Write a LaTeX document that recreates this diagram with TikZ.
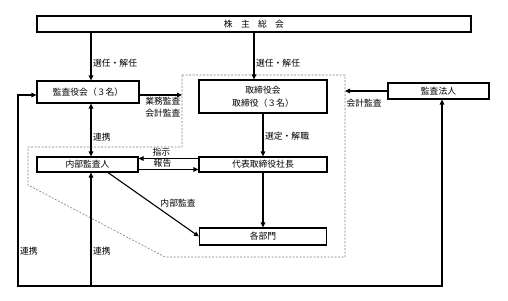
\documentclass[tikz,border=0pt]{standalone}
\usepackage{fontspec}
\newfontfamily\jpfont{Noto Sans CJK JP}
\usetikzlibrary{arrows.meta,positioning,calc}
\tikzset{
  box/.style  = {rectangle, draw, line width=1.1pt, inner sep=0pt,
                 font=\jpfont\fontsize{8.8}{13}\selectfont, align=center},
  lbl/.style  = {font=\jpfont\fontsize{8.8}{12}\selectfont, inner sep=1.5pt},
  arr/.style  = {-{Triangle[length=5pt,width=4.5pt]}, line width=1.1pt},
  dual/.style = {{Triangle[length=5pt,width=4.5pt]}-{Triangle[length=5pt,width=4.5pt]},
                 line width=1.1pt},
  zone/.style = {draw=gray, line width=0.6pt, dash pattern=on 2pt off 1.5pt},
}

\begin{document}
\begin{tikzpicture}[x=1pt, y=-1pt]
\useasboundingbox (0,0) rectangle (508,300);

% columns and outer corners
\coordinate (colA) at (91,0);
\coordinate (colB) at (254,0);
\coordinate (zA) at (182,0);
\coordinate (zB) at (345,0);
\coordinate (oL) at (18,286);
\coordinate (oR) at (442,286);

% dashed area around the executive side
\draw[zone] (182,75) -- (345,75) -- (345,257) -- (165,257) -- (28,185)
  -- (28,147) -- (182,147) -- cycle;

% boxes
\node[box, minimum width=434pt, minimum height=16pt] (soukai) at (254,24)
  {株\hspace{8.3pt}主\hspace{8.3pt}総\hspace{8.3pt}会};
\node[box, minimum width=102pt, minimum height=22pt] (kansayaku) at (88,92) {監査役会（３名）};
\node[box, minimum width=128pt, minimum height=33pt] (torishimari) at (263,96.5)
  {取締役会\\取締役（３名）};
\node[box, minimum width=101pt, minimum height=16pt] (houjin) at (438.5,91) {監査法人};
\node[box, minimum width=128pt, minimum height=15pt] (shachou) at (263,164.5) {代表取締役社長};
\node[box, minimum width=101pt, minimum height=15pt] (naibu) at (87.5,164.5) {内部監査人};
\node[box, minimum width=127pt, minimum height=17pt] (bumon) at (263,236.5) {各部門};

% election
\draw[arr] (soukai.south -| colA) -- node[lbl, right, pos=0.63] {選任・解任} (kansayaku.north -| colA);
\draw[arr] (soukai.south -| colB) -- node[lbl, right, pos=0.65] {選任・解任} (torishimari.north -| colB);

% audits into the dashed area
\draw[arr] ([yshift=-3pt]kansayaku.east) -- ([yshift=-3pt]kansayaku.east -| zA)
  node[lbl, anchor=north east, align=right, inner sep=1pt, yshift=-1pt] {業務監査\\会計監査};
\draw[arr] (houjin.west) -- (houjin.west -| zB)
  node[lbl, anchor=north west, inner sep=1pt, yshift=-7pt] {会計監査};

% executive line
\draw[arr] (torishimari) -- node[lbl, right, pos=0.52] {選定・解職} (shachou);
\draw[arr] ([yshift=6pt]shachou.west) -- node[lbl, above, pos=0.62] {指示} ([yshift=6pt]naibu.east);
\draw[arr] ([yshift=-5pt]naibu.east) -- node[lbl, above, pos=0.4] {報告} ([yshift=-5pt]shachou.west);
\draw[arr] (shachou) -- (bumon);

% internal audit
\draw[dual] (kansayaku.south -| colA) -- node[lbl, right, pos=0.63] {連携} (naibu.north -| colA);
\draw[arr] ([xshift=20.5pt]naibu.south) -- node[lbl, pos=0.56, anchor=south west, inner sep=1pt] {内部監査} (bumon.west);

% outer cooperation loop
\draw[dual] (houjin.south -| oR) -- (oR) -- (oL)
  -- node[lbl, right, pos=0.18] {連携} (oL |- 0,95) -- ([yshift=-3pt]kansayaku.west);
\draw[arr] (colA |- oL) -- node[lbl, right, pos=0.31] {連携} (naibu.south -| colA);

\end{tikzpicture}
\end{document}
